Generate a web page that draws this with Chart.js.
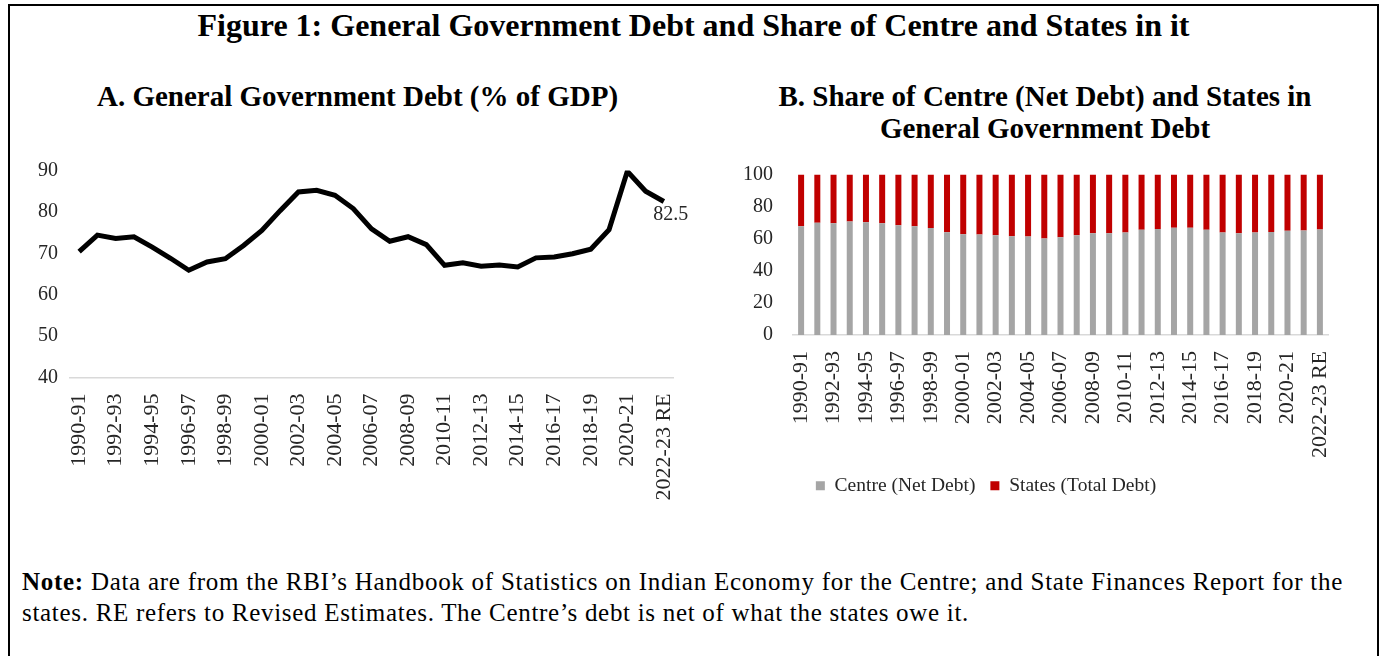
<!DOCTYPE html>
<html>
<head>
<meta charset="utf-8">
<script src="https://cdn.jsdelivr.net/npm/chart.js@4"></script>
<style>
  body { margin: 0; background: #fff; font-family: "Liberation Serif", "Times New Roman", serif; }
  #frame { position: absolute; left: 8px; top: 4px; width: 1367px; height: 660px; border: 2px solid #000; }
  .t { position: absolute; font-weight: bold; color: #000; text-align: center; white-space: nowrap; line-height: 1.15; }
  #fig { left: 0; width: 1387px; top: 7px; font-size: 32px; }
  #subA { left: 30px; width: 655px; top: 80px; font-size: 29px; }
  #subB { left: 720px; width: 650px; top: 80px; font-size: 29px; line-height: 32px; }
  .note { position: absolute; left: 22px; font-size: 25px; letter-spacing: 0.7px; line-height: 31px; color: #000; white-space: nowrap; }
  #note1 { top: 566px; width: 1321px; text-align: justify; text-align-last: justify; }
  #note2 { top: 597px; }
  #boxA { position: absolute; left: 20px; top: 150px; width: 680px; height: 360px; }
  #boxB { position: absolute; left: 644px; top: 150px; width: 726px; height: 360px; }
</style>
</head>
<body>
<div id="frame"></div>
<div class="t" id="fig">Figure 1: General Government Debt and Share of Centre and States in it</div>
<div class="t" id="subA">A. General Government Debt (% of GDP)</div>
<div class="t" id="subB">B. Share of Centre (Net Debt) and States in<br>General Government Debt</div>
<div id="boxA"><canvas id="debtChart"></canvas></div>
<div id="boxB"><canvas id="shareChart"></canvas></div>
<div class="note" id="note1"><b>Note:</b> Data are from the RBI’s Handbook of Statistics on Indian Economy for the Centre; and State Finances Report for the</div>
<div class="note" id="note2">states. RE refers to Revised Estimates. The Centre’s debt is net of what the states owe it.</div>

<script>
// years 1990-91 .. 2022-23 RE
var years = ["1990-91","1991-92","1992-93","1993-94","1994-95","1995-96","1996-97","1997-98","1998-99","1999-00",
  "2000-01","2001-02","2002-03","2003-04","2004-05","2005-06","2006-07","2007-08","2008-09","2009-10",
  "2010-11","2011-12","2012-13","2013-14","2014-15","2015-16","2016-17","2017-18","2018-19","2019-20",
  "2020-21","2021-22","2022-23 RE"];

// general government debt, % of GDP
var ggDebt = [70.4, 74.4, 73.6, 74.0, 71.5, 68.8, 65.9, 67.9, 68.7, 71.9,
  75.5, 80.3, 84.8, 85.2, 84.0, 80.8, 75.9, 72.9, 74.0, 72.1,
  67.1, 67.7, 66.9, 67.2, 66.7, 68.9, 69.1, 69.9, 71.0, 75.7,
  89.8, 85.0, 82.5];

// shares in general government debt (%)
var centreShare = [67.8, 69.9, 69.6, 70.7, 70.3, 69.6, 68.4, 67.8, 66.7, 64.0,
  62.8, 62.6, 62.2, 61.5, 61.4, 60.1, 60.9, 62.2, 63.4, 63.4,
  63.8, 65.5, 66.1, 66.9, 66.9, 65.5, 63.8, 63.4, 63.8, 64.2,
  64.9, 65.1, 65.7];
var statesShare = [32.2, 30.1, 30.4, 29.3, 29.7, 30.4, 31.6, 32.2, 33.3, 36.0,
  37.2, 37.4, 37.8, 38.5, 38.6, 39.9, 39.1, 37.8, 36.6, 36.6,
  36.2, 34.5, 33.9, 33.1, 33.1, 34.5, 36.2, 36.6, 36.2, 35.8,
  35.1, 34.9, 34.3];

var yTicksA = [40, 50, 60, 70, 80, 90];
var yTicksB = [0, 20, 40, 60, 80, 100];

var serif = "'Liberation Serif', 'Times New Roman', serif";
Chart.defaults.font.family = serif;
Chart.defaults.color = "#262626";

// every other year on the category axis
function everyOther(v, i) {
  return i % 2 === 0 ? this.getLabelForValue(v) : "";
}

// fixed y-axis width, and no extra room above/below for the labels
function fixWidth(w) {
  return function (s) {
    s.width = w;
    s.paddingTop = 0;
    s.paddingBottom = 0;
  };
}

// value label next to the last point
var lastLabel = {
  id: "lastLabel",
  afterDatasetsDraw: function (chart) {
    var meta = chart.getDatasetMeta(0);
    var i = ggDebt.length - 1;
    var pt = meta.data[i];
    var ctx = chart.ctx;
    ctx.save();
    ctx.font = "20px " + serif;
    ctx.fillStyle = "#262626";
    ctx.textAlign = "center";
    ctx.textBaseline = "middle";
    ctx.fillText(ggDebt[i].toFixed(1), pt.x + 7, pt.y + 13);
    ctx.restore();
  }
};

new Chart(document.getElementById("debtChart"), {
  type: "line",
  data: {
    labels: years,
    datasets: [{
      data: ggDebt,
      borderColor: "#000",
      borderWidth: 5,
      pointRadius: 0,
      tension: 0,
      borderJoinStyle: "miter"
    }]
  },
  options: {
    responsive: true,
    maintainAspectRatio: false,
    animation: false,
    layout: { padding: { top: 20.5, left: 0, right: 27, bottom: 0 } },
    plugins: { legend: { display: false }, tooltip: { enabled: false } },
    scales: {
      x: {
        offset: true,
        grid: { display: false },
        border: { display: true, color: "#d9d9d9", width: 1.5 },
        ticks: { autoSkip: false, maxRotation: 90, minRotation: 90, padding: 8, font: { size: 22 }, callback: everyOther },
        afterFit: function (s) { s.height = 132.5; }
      },
      y: {
        min: 40, max: 90,
        grid: { display: false, drawTicks: false },
        border: { display: false },
        afterBuildTicks: function (s) { s.ticks = yTicksA.map(function (v) { return { value: v }; }); },
        ticks: { autoSkip: false, padding: 12, font: { size: 20 } },
        afterFit: fixWidth(50)
      }
    }
  },
  plugins: [lastLabel]
});

new Chart(document.getElementById("shareChart"), {
  type: "bar",
  data: {
    labels: years,
    datasets: [
      { label: "Centre (Net Debt)", data: centreShare, backgroundColor: "#a5a5a5", barPercentage: 0.37, categoryPercentage: 1 },
      { label: "States (Total Debt)", data: statesShare, backgroundColor: "#c00000", barPercentage: 0.37, categoryPercentage: 1 }
    ]
  },
  options: {
    responsive: true,
    maintainAspectRatio: false,
    animation: false,
    layout: { padding: { top: 24.5, left: 0, right: 42, bottom: 4.5 } },
    plugins: {
      tooltip: { enabled: false },
      legend: {
        position: "bottom",
        labels: { boxWidth: 9, boxHeight: 9, padding: 15, color: "#262626", font: { size: 19.5 } }
      }
    },
    scales: {
      x: {
        stacked: true,
        grid: { display: false },
        border: { display: true, color: "#d9d9d9", width: 1.5 },
        ticks: { autoSkip: false, maxRotation: 90, minRotation: 90, padding: 8, font: { size: 22 }, callback: everyOther },
        afterFit: function (s) { s.height = 126; }
      },
      y: {
        stacked: true,
        min: 0, max: 100,
        grid: { display: false, drawTicks: false },
        border: { display: false },
        afterBuildTicks: function (s) { s.ticks = yTicksB.map(function (v) { return { value: v }; }); },
        ticks: { autoSkip: false, padding: 20, font: { size: 20 } },
        afterFit: fixWidth(149)
      }
    }
  }
});
</script>
</body>
</html>
